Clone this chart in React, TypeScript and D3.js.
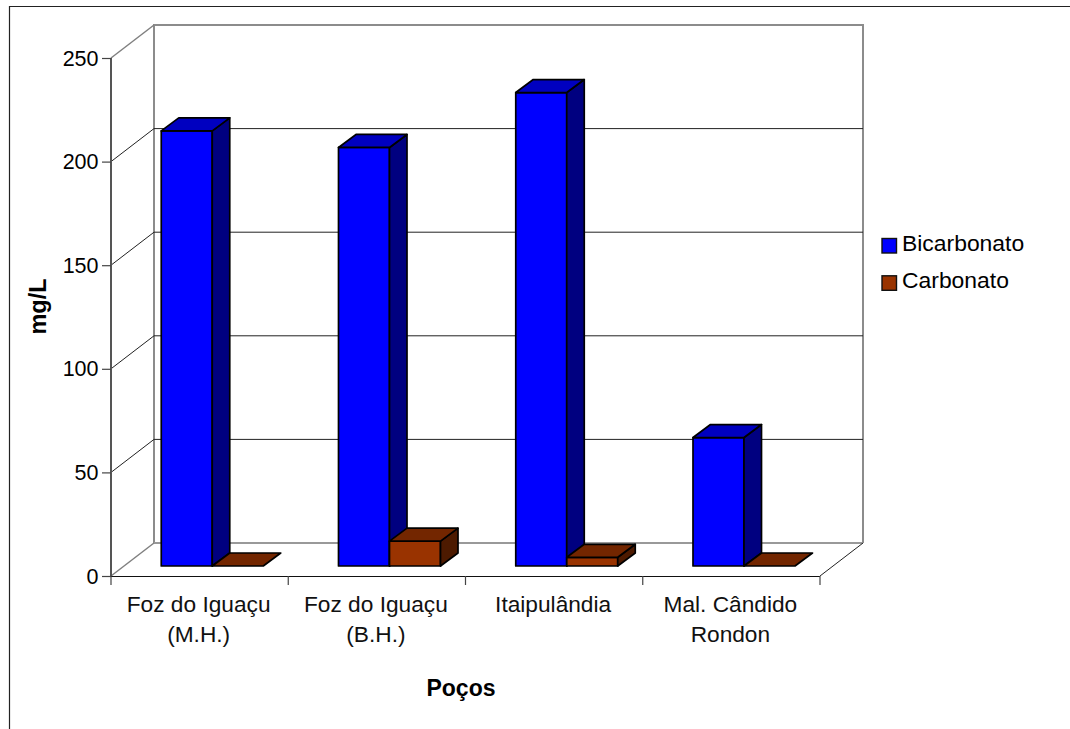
import React from "react";
import * as d3 from "d3";

const categories = [["Foz do Iguaçu", "(M.H.)"], ["Foz do Iguaçu", "(B.H.)"], ["Itaipulândia"], ["Mal. Cândido", "Rondon"]];
const bicarbonato = [210, 202, 228.5, 62];
const carbonato = [0, 12, 4.2, 0];
const yTicks = [0, 50, 100, 150, 200, 250];
const seriesNames = ["Bicarbonato", "Carbonato"];

const W = 1070, H = 729;
const font = "'Liberation Sans', Arial, sans-serif";
const wallDx = 43, wallDy = -33;
const barDx = 17.5, barDy = -13;
const baseShift = -10;

const y = d3.scaleLinear().domain([0, 250]).range([576, 58]);
const x = d3.scaleBand<number>().domain(d3.range(categories.length)).range([111, 820]).paddingInner(0);
const barW = 51, barInset = 50.25;

const blue = { front: "#0000ff", top: "#0000c0", side: "#000080" };
const brown = { front: "#993300", top: "#732600", side: "#4d1a00" };

const poly = (pts: number[][]) => pts.map(p => p.join(",")).join(" ");

function Bar({ x0, value, c }: { x0: number; value: number; c: typeof blue }) {
  const x1 = x0 + barW;
  const yb = y(0) + baseShift;
  const yt = y(value) + baseShift;
  const st = { stroke: "#000", strokeWidth: 1.7, strokeLinejoin: "round" as const };
  return (
    <g>
      {value > 0 && <rect x={x0} y={yt} width={barW} height={yb - yt} fill={c.front} {...st} />}
      {value > 0 && <polygon points={poly([[x1, yt], [x1 + barDx, yt + barDy], [x1 + barDx, yb + barDy], [x1, yb]])} fill={c.side} {...st} />}
      <polygon points={poly([[x0, yt], [x1, yt], [x1 + barDx, yt + barDy], [x0 + barDx, yt + barDy]])} fill={c.top} {...st} />
    </g>
  );
}

export default function App() {
  const x0 = x.range()[0], x1 = x.range()[1];
  return (
    <svg width={W} height={H} style={{ position: "absolute", left: 0, top: 0, background: "#fff" }} fontFamily={font}>
      <path d={`M9.5 729V6.5H1070`} fill="none" stroke="#222" strokeWidth={1.2} />
      {/* back wall and floor edges */}
      <path d={`M${x0 + wallDx} ${y(0) + wallDy}V${y(250) + wallDy}H${x1 + wallDx}V${y(0) + wallDy}`} fill="none" stroke="#8c8c8c" strokeWidth={2} />
      <line x1={x0 + wallDx} x2={x1 + wallDx} y1={y(0) + wallDy} y2={y(0) + wallDy} stroke="#999" strokeWidth={2} />
      <line x1={x0} x2={x0 + wallDx} y1={y(250)} y2={y(250) + wallDy} stroke="#808080" strokeWidth={1.5} />
      <line x1={x0} x2={x0 + wallDx} y1={y(0)} y2={y(0) + wallDy} stroke="#808080" strokeWidth={1.5} />
      <line x1={x1} x2={x1 + wallDx} y1={y(0)} y2={y(0) + wallDy} stroke="#222" strokeWidth={1} />
      {/* gridlines */}
      {yTicks.filter(t => t > 0 && t < 250).map(t => (
        <g key={t} stroke="#222" strokeWidth={1}>
          <line x1={x0} x2={x0 + wallDx} y1={y(t)} y2={y(t) + wallDy} />
          <line x1={x0 + wallDx} x2={x1 + wallDx} y1={y(t) + wallDy} y2={y(t) + wallDy} />
        </g>
      ))}
      {/* axes */}
      <line x1={x0} x2={x0} y1={y(250)} y2={y(0)} stroke="#555" strokeWidth={2} />
      <line x1={x0} x2={x1} y1={y(0) + 0.5} y2={y(0) + 0.5} stroke="#111" strokeWidth={1.2} />
      {yTicks.map(t => (
        <g key={t}>
          <line x1={x0 - 9} x2={x0} y1={y(t) + 0.5} y2={y(t) + 0.5} stroke="#444" strokeWidth={1.2} />
          <text x={x0 - 12.5} y={y(t)} dy="0.35em" textAnchor="end" fontSize={21.5}>{t}</text>
        </g>
      ))}
      {d3.range(categories.length + 1).map(i => {
        const tx = x0 + i * x.step();
        return <line key={i} x1={tx} x2={tx} y1={y(0)} y2={y(0) + 9} stroke="#444" strokeWidth={1.2} />;
      })}
      {/* bars */}
      {categories.map((_, i) => {
        const bx = (x(i) as number) + barInset;
        return (
          <g key={i}>
            <Bar x0={bx} value={bicarbonato[i]} c={blue} />
            <Bar x0={bx + barW} value={carbonato[i]} c={brown} />
          </g>
        );
      })}
      {/* category labels */}
      {categories.map((lines, i) => (
        <text key={i} textAnchor="middle" fontSize={22.7} fill="#111">
          {lines.map((l, j) => (
            <tspan key={j} x={(x(i) as number) + x.bandwidth() / 2 - 1} y={612 + j * 30}>{l}</tspan>
          ))}
        </text>
      ))}
      <text x={461} y={696} textAnchor="middle" fontSize={23} fontWeight="bold">Poços</text>
      <text transform="translate(45.5,306.5) rotate(-90)" textAnchor="middle" fontSize={23.5} fontWeight="bold">mg/L</text>
      {/* legend */}
      {seriesNames.map((n, i) => (
        <g key={n}>
          <rect x={882} y={238.5 + i * 37.3} width={14.5} height={14.5} fill={i === 0 ? blue.front : brown.front} stroke="#111" strokeWidth={1.4} />
          <text x={902} y={250.5 + i * 37.3} fontSize={22.9}>{n}</text>
        </g>
      ))}
    </svg>
  );
}
